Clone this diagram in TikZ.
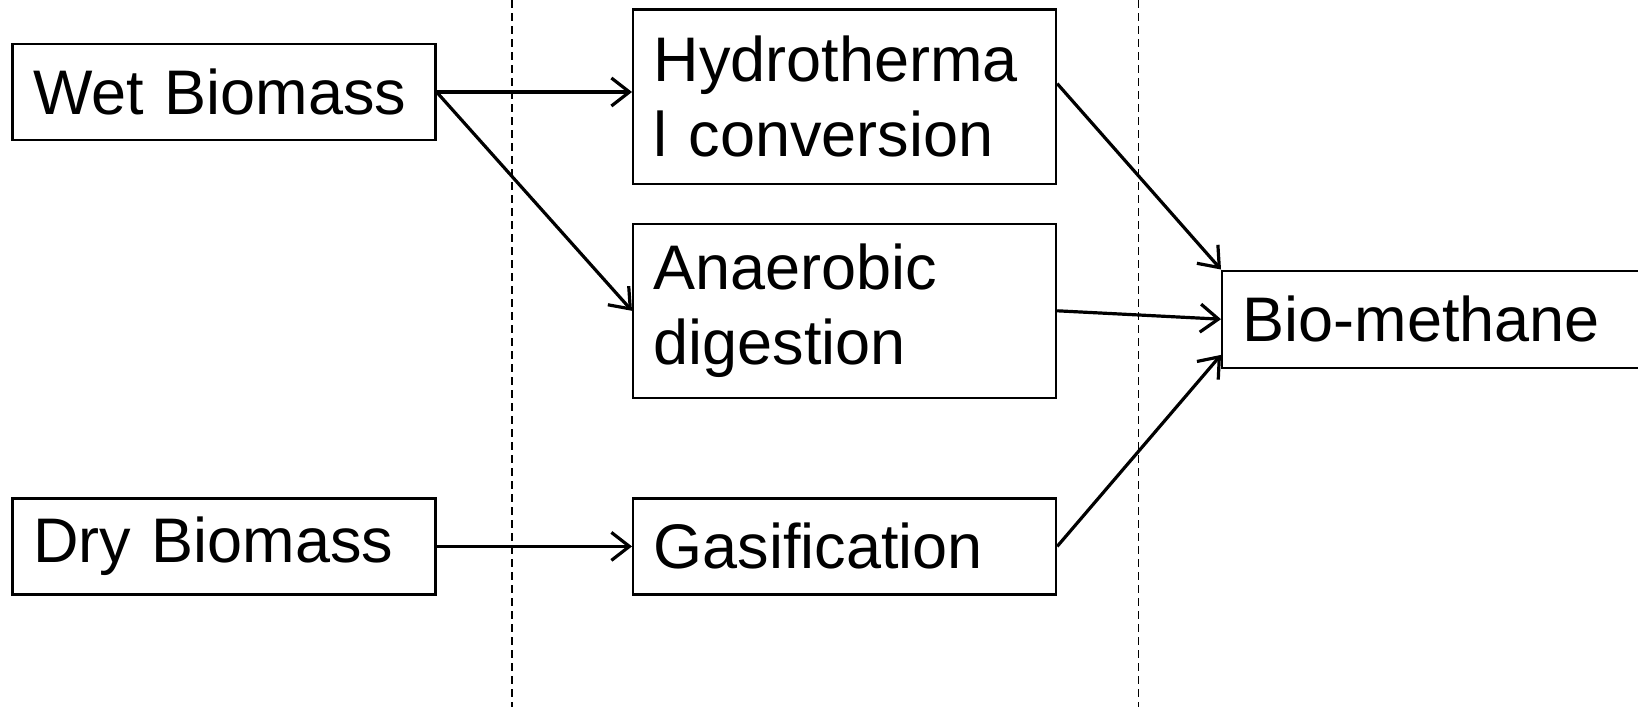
\documentclass[tikz,border=0pt]{standalone}
\usepackage{fontspec}
\setmainfont{Liberation Sans}
\usetikzlibrary{arrows.meta, positioning}

\begin{document}
\begin{tikzpicture}[x=1pt, y=-1pt,
    stage/.style={draw, line width=1.1pt, minimum width=211.5pt, minimum height=48pt, text width=191pt,
      inner xsep=10.25pt, inner ysep=0pt, align=left, font=\fontsize{31.5}{37.5}\selectfont},
    tallstage/.style={stage, minimum height=87.2pt},
    flow/.style={-{Straight Barb[length=9pt, width=14pt]}, line width=1.6pt},
    divider/.style={line width=0.75pt, dash pattern=on 4pt off 2.5pt}]
    \useasboundingbox (0,0) rectangle (819,356);
    % feedstock column
    \node[stage] (wet) at (112,46) {Wet~Biomass};
    \node[stage] (dry) at (112,273.2) {Dry~Biomass};
    % conversion routes
    \node[tallstage] (hydro) at (422.3,48.3) {Hydrotherma\\l conversion};
    \node[tallstage] (anaer) at (422.3,155.4) {Anaerobic\\digestion};
    \node[stage] (gasif) at (422.3,273.2) {Gasification};
    % product
    \node[stage, minimum height=48.6pt] (biomethane) at (716.8,159.6) {Bio-methane};
    % column dividers
    \draw[divider] (256,0) -- (256,353.5);
    \draw[divider] (569.3,0) -- (569.3,353.5);
    % arrows
    \draw[flow] (wet.east) -- (wet.east -| hydro.west);
    \draw[flow] (wet.east) -- (anaer.west);
    \draw[flow] (dry.east) -- (gasif.west);
    \draw[flow] ([yshift=6.5pt]hydro.east) -- (biomethane.north west);
    \draw[flow] (anaer.east) -- (biomethane.west);
    \draw[flow] (gasif.east) -- ([yshift=7pt]biomethane.south west);
\end{tikzpicture}
\end{document}
